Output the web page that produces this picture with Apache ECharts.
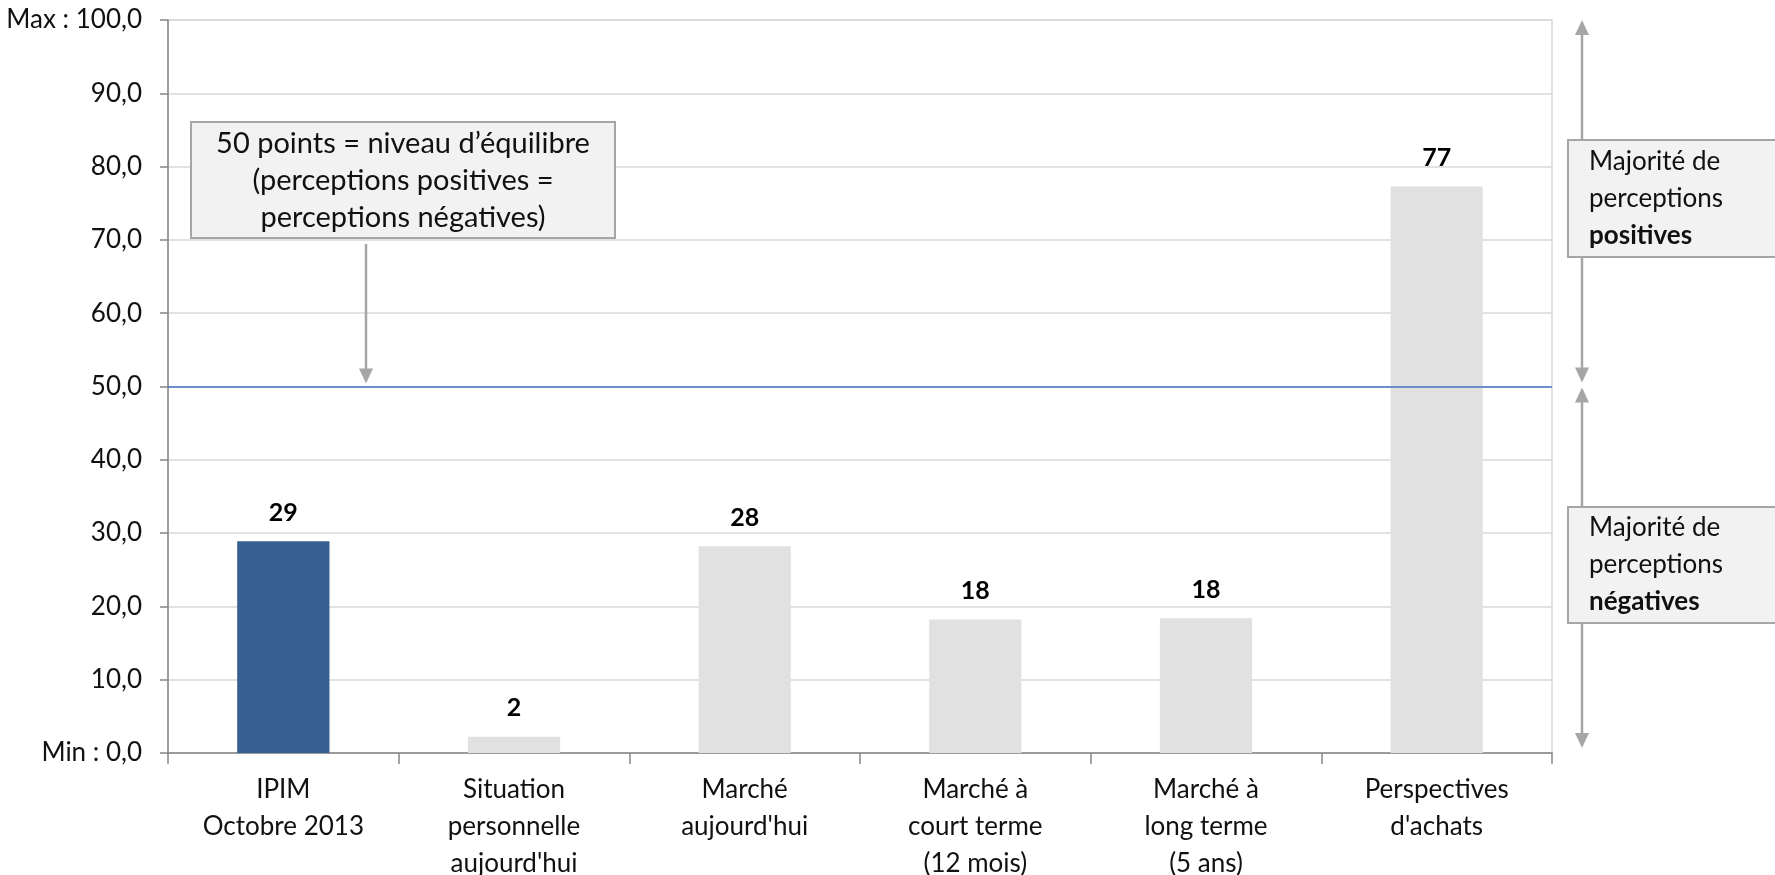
<!DOCTYPE html>
<html>
<head>
<meta charset="utf-8">
<script src="https://cdn.jsdelivr.net/npm/echarts@6/dist/echarts.min.js"></script>
<style>
html,body{margin:0;padding:0;background:#fff;}
#main{width:1775px;height:875px;}
</style>
</head>
<body>
<div id="main"></div>
<script>
const categories = ["IPIM\nOctobre 2013", "Situation\npersonnelle\naujourd'hui", "Marché\naujourd'hui", "Marché à\ncourt terme\n(12 mois)", "Marché à\nlong terme\n(5 ans)", "Perspectives\nd'achats"];
const values = [28.9, 2.2, 28.2, 18.2, 18.4, 77.3];
const equilibrium = 50;
const yMin = 0, yMax = 100, yStep = 10;
const noteText = "50 points = niveau d’équilibre\n(perceptions positives =\nperceptions négatives)";

const FONT = 'Lato';
const chart = echarts.init(document.getElementById('main'), null, {renderer: 'canvas'});

const option = {
  animation: false,
  backgroundColor: '#ffffff',
  textStyle: {fontFamily: FONT},
  grid: {left: 168, top: 20, right: 223, bottom: 122, show: true, borderColor: '#d9d9d9', borderWidth: 1.5, backgroundColor: 'transparent', containLabel: false, outerBoundsMode: 'none'},
  xAxis: {
    type: 'category',
    data: categories,
    axisLine: {lineStyle: {color: '#868686', width: 1.5}},
    axisTick: {show: true, length: 11, interval: 0, lineStyle: {color: '#868686', width: 1.5}},
    axisLabel: {interval: 0, margin: 18, fontSize: 26, lineHeight: 37, color: '#111', fontFamily: FONT, align: 'center'},
    splitLine: {show: false}
  },
  yAxis: {
    type: 'value',
    min: yMin, max: yMax, interval: yStep,
    axisLine: {show: true, lineStyle: {color: '#868686', width: 1.5}},
    axisTick: {show: true, length: 8, lineStyle: {color: '#868686', width: 1.5}},
    axisLabel: {
      margin: 26, fontSize: 26, color: '#111', fontFamily: FONT,
      formatter: function (v) {
        const s = v.toFixed(1).replace('.', ',');
        if (v === yMax) return 'Max : ' + s;
        if (v === yMin) return 'Min : ' + s;
        return s;
      }
    },
    splitLine: {lineStyle: {color: '#d9d9d9', width: 1.5}}
  },
  series: [{
    type: 'bar',
    barWidth: '40%',
    data: values.map((v, i) => ({value: v, itemStyle: {color: i === 0 ? '#366092' : '#e1e1e1'}})),
    label: {
      show: true, position: 'top', distance: 16,
      fontSize: 25, fontWeight: 'bold', color: '#000', fontFamily: FONT,
      formatter: p => String(Math.round(p.value))
    },
    markLine: {
      silent: true, symbol: 'none', label: {show: false},
      lineStyle: {color: '#4472c4', width: 1.5, type: 'solid'},
      data: [{yAxis: equilibrium}]
    }
  }]
};
chart.setOption(option);

// annotations positioned from the axis scale
const yTop = chart.convertToPixel({yAxisIndex: 0}, yMax);
const yEq = chart.convertToPixel({yAxisIndex: 0}, equilibrium);
const yBot = chart.convertToPixel({yAxisIndex: 0}, yMin);
const grey = '#a6a6a6';
const arrowX = 1582;
const noteArrowX = 366;

function head(x, y, dir) { // dir: -1 up, 1 down; y is tip
  return {type: 'polygon', shape: {points: [[x, y], [x - 7, y - dir * 15], [x + 7, y - dir * 15]]}, style: {fill: grey}, silent: true};
}

const boxText = {fontSize: 26, lineHeight: 37, fontFamily: FONT, fill: '#111'};
const noteStyle = {fontSize: 29, lineHeight: 37, fontFamily: FONT, fill: '#111'};

chart.setOption({
  graphic: [
    // note box
    {type: 'rect', shape: {x: 191, y: 122, width: 424, height: 116}, style: {fill: '#f2f2f2', stroke: grey, lineWidth: 2}, z: 10},
    {type: 'text', x: 403, y: 181, style: Object.assign({text: noteText, textAlign: 'center', textVerticalAlign: 'middle'}, noteStyle), z: 11},
    {type: 'line', shape: {x1: noteArrowX, y1: 244, x2: noteArrowX, y2: yEq - 10}, style: {stroke: grey, lineWidth: 2.5}, z: 10},
    Object.assign(head(noteArrowX, yEq - 3, 1), {z: 10}),
    // right vertical arrows
    {type: 'line', shape: {x1: arrowX, y1: yTop + 8, x2: arrowX, y2: yEq - 10}, style: {stroke: grey, lineWidth: 2.5}, z: 10},
    Object.assign(head(arrowX, yTop, -1), {z: 10}),
    Object.assign(head(arrowX, yEq - 4, 1), {z: 10}),
    {type: 'line', shape: {x1: arrowX, y1: yEq + 10, x2: arrowX, y2: yBot - 12}, style: {stroke: grey, lineWidth: 2.5}, z: 10},
    Object.assign(head(arrowX, yEq + 1, -1), {z: 10}),
    Object.assign(head(arrowX, yBot - 5, 1), {z: 10}),
    // right boxes
    {type: 'rect', shape: {x: 1568, y: 140, width: 240, height: 117}, style: {fill: '#f2f2f2', stroke: grey, lineWidth: 2}, z: 12},
    {type: 'text', x: 1589, y: 143, style: {text: '{n|Majorité de}\n{n|perceptions}\n{b|positives}', textAlign: 'left', textVerticalAlign: 'top',
      rich: {n: boxText, b: Object.assign({}, boxText, {fontWeight: 'bold'})}}, z: 13},
    {type: 'rect', shape: {x: 1568, y: 507, width: 240, height: 116}, style: {fill: '#f2f2f2', stroke: grey, lineWidth: 2}, z: 12},
    {type: 'text', x: 1589, y: 509, style: {text: '{n|Majorité de}\n{n|perceptions}\n{b|négatives}', textAlign: 'left', textVerticalAlign: 'top',
      rich: {n: boxText, b: Object.assign({}, boxText, {fontWeight: 'bold'})}}, z: 13}
  ]
});
</script>
</body>
</html>
